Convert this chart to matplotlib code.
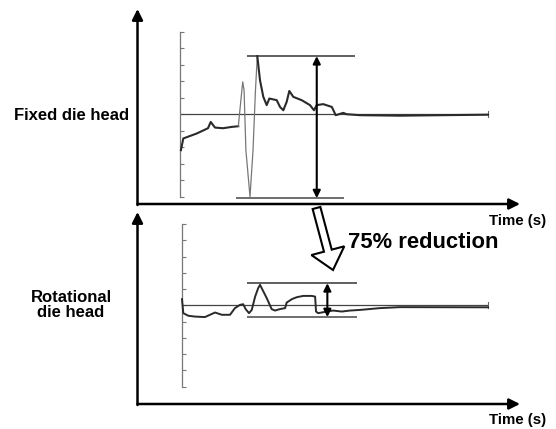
import matplotlib
matplotlib.use("Agg")
import matplotlib.pyplot as plt
from matplotlib.patches import FancyArrow

plt.rcParams['font.family'] = ['Liberation Sans', 'DejaVu Sans']

# ---- data: fixed die head (time in % of window, signal in tick units) ----
fixed_t = [0.3, 1.07, 5.42, 9.09, 9.97, 11.36, 13.96, 16.79, 18.93, 20.36, 20.8, 21.4, 22.73,
           23.7, 24.5, 25.1, 25.97, 27.05, 28.15, 29.0, 31.4, 32.47, 33.54, 34.64, 35.49,
           36.79, 39.5, 42.2, 43.5, 44.4, 46.5, 49.3, 50.55, 53.0, 54.1, 58.4, 71.4, 85.0, 100.0]
fixed_v = [-2.18, -1.47, -1.17, -0.85, -0.47, -0.81, -0.85, -0.77, -0.73, 1.96, 1.45, -2.2, -5.0,
           -2.2, 1.45, 3.52, 2.06, 1.05, 0.55, 0.95, 0.85, 0.44, 0.24, 0.75, 1.41,
           1.05, 0.85, 0.55, 0.24, 0.55, 0.61, 0.44, -0.06, 0.08, 0.0, -0.06, -0.09, -0.06, -0.03]
fixed_fast = (18.93, 25.1)   # time window of the rapid oscillation (drawn thin)

# ---- data: rotational die head ----
rot_t = [0.0, 0.42, 2.06, 4.25, 7.5, 10.8, 13.0, 15.7, 17.3, 18.95, 20.0, 20.8, 21.9, 22.8,
         23.9, 24.9, 25.5, 26.6, 27.7, 29.3, 30.4, 32.0, 33.7, 34.2, 35.9, 37.5, 39.6, 42.4,
         43.5, 43.8, 44.5, 47.3, 49.4, 52.2, 54.9, 58.2, 64.7, 71.2, 100.0]
rot_v = [0.38, -0.48, -0.64, -0.69, -0.72, -0.44, -0.58, -0.58, -0.17, 0.03, 0.07, -0.23, -0.48, -0.28,
         0.54, 1.06, 1.26, 0.85, 0.44, -0.23, -0.32, -0.23, -0.17, 0.17, 0.38, 0.50, 0.58, 0.58,
         0.54, -0.38, -0.48, -0.38, -0.32, -0.38, -0.32, -0.28, -0.17, -0.11, -0.12]

# range markers: (t_start, t_end, level)
fixed_upper = (21.8, 56.8, 3.52)
fixed_lower = (18.2, 53.2, -5.09)
fixed_arrow_t = 44.4
rot_upper = (21.1, 57.2, 1.36)
rot_lower = (21.1, 57.2, -0.72)
rot_arrow_t = 47.5

labels = ["Fixed die head", "Rotational\ndie head"]
xlabel = "Time (s)"
reduction_text = "75% reduction"

W, H = 556, 429
fig = plt.figure(figsize=(W / 100, H / 100), dpi=100)

def px_axes(x0, y0, x1, y1, **kw):
    return fig.add_axes([x0 / W, 1 - y1 / H, (x1 - x0) / W, (y1 - y0) / H], **kw)

# overlay for the outer frame
ov = px_axes(0, 0, W, H)
ov.set_xlim(0, W)
ov.set_ylim(H, 0)
ov.axis('off')

def axis_arrow(start, tip):
    ov.annotate('', xy=tip, xytext=start,
                arrowprops=dict(arrowstyle='-|>', lw=1.8, color='black',
                                mutation_scale=16, shrinkA=0, shrinkB=0))

axis_arrow((137.5, 205), (137.5, 9))
axis_arrow((137.5, 204), (520, 204))
axis_arrow((137.5, 405), (137.5, 212))
axis_arrow((137.5, 404), (520, 404))

ov.text(518, 220.5, xlabel, ha='center', va='center', fontsize=10.8, fontweight='bold')
ov.text(518, 420, xlabel, ha='center', va='center', fontsize=10.8, fontweight='bold')
ov.text(72, 115, labels[0], ha='center', va='center', fontsize=12, fontweight='bold')
ov.text(71, 305, labels[1], ha='center', va='center', fontsize=12, fontweight='bold',
        linespacing=1.05)
ov.text(348, 242, reduction_text, ha='left', va='center', fontsize=15.8, fontweight='bold')

arr = FancyArrow(316.5, 208, 16.5, 62, width=8, head_width=34, head_length=20,
                 length_includes_head=True, facecolor='white', edgecolor='black', lw=1.5)
ov.add_patch(arr)

def inner(ax, t, v, upper, lower, arrow_t, fast=None):
    ax.set_xlim(0, 100)
    ax.set_ylim(-5, 5)
    ax.patch.set_visible(False)
    for s in ['top', 'right', 'bottom']:
        ax.spines[s].set_visible(False)
    ax.spines['left'].set_color('#777777')
    ax.spines['left'].set_linewidth(0.9)
    ax.set_yticks(range(-5, 6))
    ax.set_xticks([])
    ax.tick_params(axis='y', direction='in', length=3, color='#777777', labelleft=False)
    ax.axhline(0, color='#444444', lw=0.9, xmin=0, xmax=1)
    ax.plot([100, 100], [-0.15, 0.2], color='#666666', lw=0.8, clip_on=False)
    if fast is None:
        ax.plot(t, v, color='#2a2a2a', lw=1.4, clip_on=False, zorder=3)
    else:
        a, b = fast
        ta = [x for x in t if x <= a]
        tb = [x for x in t if a <= x <= b]
        tc = [x for x in t if x >= b]
        va = v[:len(ta)]
        vb = v[len(ta) - 1:len(ta) - 1 + len(tb)]
        vc = v[len(t) - len(tc):]
        ax.plot(ta, va, color='#2a2a2a', lw=1.5, clip_on=False, zorder=3)
        ax.plot(tb, vb, color='#777777', lw=0.9, clip_on=False, zorder=3)
        ax.plot(tc, vc, color='#2a2a2a', lw=1.5, clip_on=False, zorder=3)
    ax.hlines([upper[2]], upper[0], upper[1], color='#444444', lw=1.2, clip_on=False)
    ax.hlines([lower[2]], lower[0], lower[1], color='#555555', lw=1.2, clip_on=False)
    ax.annotate('', xy=(arrow_t, upper[2]), xytext=(arrow_t, lower[2]),
                arrowprops=dict(arrowstyle='<|-|>', lw=1.5, color='black',
                                mutation_scale=11, shrinkA=0, shrinkB=0),
                annotation_clip=False)

ax1 = px_axes(180, 31.7, 488, 196.7)
inner(ax1, fixed_t, fixed_v, fixed_upper, fixed_lower, fixed_arrow_t, fast=fixed_fast)
ax2 = px_axes(182, 224, 488, 386.7)
inner(ax2, rot_t, rot_v, rot_upper, rot_lower, rot_arrow_t)

fig.savefig('out.png', dpi=100)
